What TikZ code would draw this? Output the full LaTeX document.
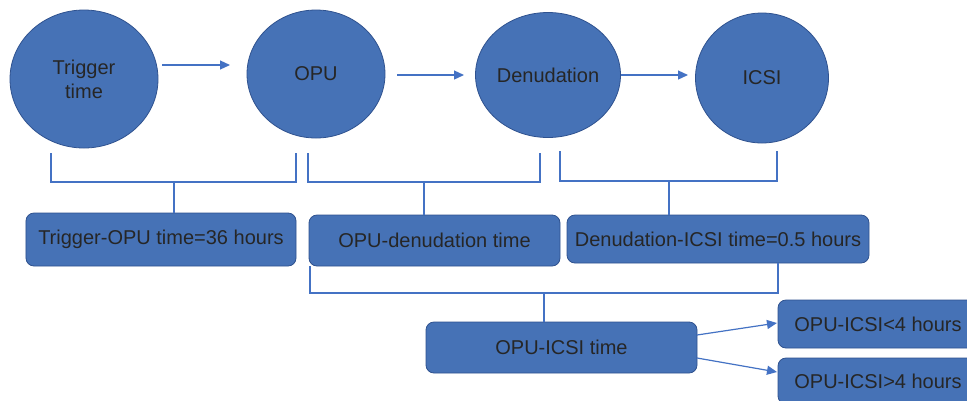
\documentclass[tikz,border=0pt]{standalone}
\usepackage{fontspec}
\setmainfont{Liberation Sans}
\usetikzlibrary{shapes.geometric,arrows.meta}
\definecolor{fillblue}{RGB}{70,114,182}
\definecolor{edgeblue}{RGB}{47,82,143}
\definecolor{lineblue}{RGB}{68,114,196}
\definecolor{txt}{RGB}{38,38,38}
\tikzset{
  oval/.style={ellipse, draw=edgeblue, fill=fillblue, line width=0.8bp, inner sep=0pt, text=txt, align=center, font=\fontsize{20bp}{24bp}\selectfont},
  rbox/.style={rectangle, rounded corners=8bp, draw=edgeblue, fill=fillblue, line width=0.8bp, inner sep=0pt, text=txt, align=center, font=\fontsize{20bp}{24bp}\selectfont},
  conn/.style={draw=lineblue, line width=1.2bp},
  arr/.style={conn, -{Triangle[length=10bp,width=9bp]}}
}
\begin{document}
\begin{tikzpicture}[x=1bp,y=-1bp]
\clip (0,0) rectangle (967,400);
\fill[white] (0,0) rectangle (967,400);
% ellipses
\node[oval, minimum width=148bp, minimum height=138bp] (e1) at (84,79) {Trigger\\time};
\node[oval, minimum width=138bp, minimum height=128bp] (e2) at (316,74) {OPU};
\node[oval, minimum width=145bp, minimum height=125bp] (e3) at (548,75) {Denudation};
\node[oval, minimum width=133bp, minimum height=130bp] (e4) at (762,78) {ICSI};
% top arrows
\coordinate (a1s) at (162,65); \coordinate (a1e) at (230,65);
\coordinate (a2s) at (397,75); \coordinate (a2e) at (464,75);
\coordinate (a3e) at (688,75);
\draw[arr] (a1s) -- (a1e);
\draw[arr] (a2s) -- (a2e);
\draw[arr] (e3.east) -- (a3e);
% boxes
\node[rbox, minimum width=270bp, minimum height=53bp] (b1) at (161,239.5) {Trigger-OPU time=36 hours};
\node[rbox, minimum width=251bp, minimum height=51bp] (b2) at (434.5,240.5) {OPU-denudation time};
\node[rbox, minimum width=302bp, minimum height=48bp] (b3) at (718,239) {Denudation-ICSI time=0.5 hours};
\node[rbox, minimum width=271bp, minimum height=51bp] (b4) at (561.5,347.5) {OPU-ICSI time};
\node[rbox, minimum width=200bp, minimum height=48bp] (b5) at (878,324) {OPU-ICSI<4 hours};
\node[rbox, minimum width=200bp, minimum height=46bp] (b6) at (878,381) {OPU-ICSI>4 hours};
% bracket 1
\coordinate (k1l) at (51,153); \coordinate (k1r) at (296,153); \coordinate (k1m) at (174,182);
\draw[conn] (k1l) -- (51,182) -- (296,182) -- (k1r);
\draw[conn] (k1m) -- (k1m |- b1.north);
% bracket 2
\coordinate (k2l) at (308,153); \coordinate (k2r) at (540,153); \coordinate (k2m) at (424,182);
\draw[conn] (k2l) -- (308,182) -- (540,182) -- (k2r);
\draw[conn] (k2m) -- (k2m |- b2.north);
% bracket 3
\coordinate (k3l) at (560,151); \coordinate (k3r) at (777,151); \coordinate (k3m) at (669,181);
\draw[conn] (k3l) -- (560,181) -- (777,181) -- (k3r);
\draw[conn] (k3m) -- (k3m |- b3.north);
% bracket 4
\coordinate (k4l) at (310,293); \coordinate (k4r) at (778,293); \coordinate (k4m) at (544,293);
\draw[conn] (k4l |- b2.south) -- (k4l) -- (k4r) -- (k4r |- b3.south);
\draw[conn] (k4m) -- (k4m |- b4.north);
% bottom arrows
\coordinate (c1s) at (697,335); \coordinate (c1e) at (777,323);
\coordinate (c2s) at (697,358); \coordinate (c2e) at (777,372);
\draw[arr] (c1s) -- (c1e);
\draw[arr] (c2s) -- (c2e);
\end{tikzpicture}
\end{document}
